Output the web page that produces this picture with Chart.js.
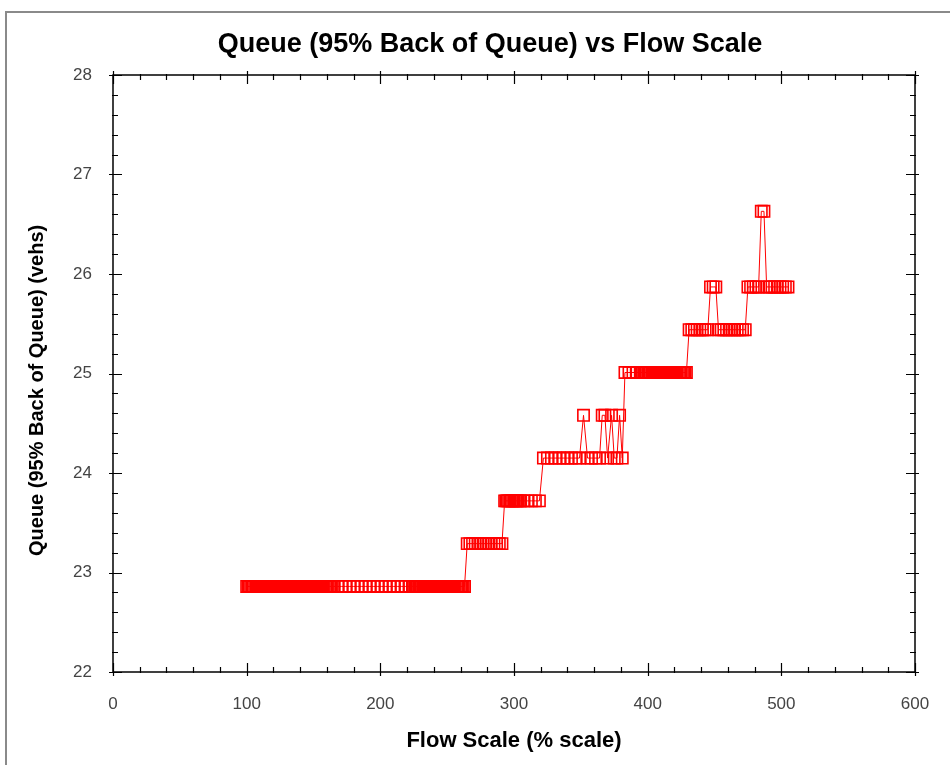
<!DOCTYPE html>
<html>
<head>
<meta charset="utf-8">
<script src="https://cdn.jsdelivr.net/npm/chart.js@4/dist/chart.umd.min.js"></script>
<style>
  body { margin: 0; background: #fff; }
  #frame { position: absolute; left: 5px; top: 11px; width: 960px; height: 780px;
           border-left: 2px solid #8a8a8a; border-top: 2px solid #8a8a8a; }
  #wrap { position: absolute; left: 0; top: 0; width: 950px; height: 765px; }
</style>
</head>
<body>
<div id="frame"></div>
<div id="wrap"><canvas id="queueChart" width="950" height="765"></canvas></div>
<script>
// Flat runs of the queue curve.
// Each run: first flow scale, last flow scale, sampling step, queue value
const runStart = [100, 168, 224, 265, 293, 307, 322, 352, 355, 366, 370, 373, 375, 379, 381, 383, 396, 431, 447, 453, 475, 485, 489];
const runEnd   = [165, 222, 263, 291, 305, 319, 349, 352, 364, 368, 370, 373, 377, 379, 381, 395, 429, 445, 451, 473, 483, 487, 506];
const runStep  = [1,   3,   1,   2,   1,   3,   3,   1,   3,   2,   1,   1,   2,   1,   1,   3,   1,   2,   2,   2,   2,   2,   2];
const runQueue = [22.86, 22.86, 22.86, 23.29, 23.72, 23.72, 24.15, 24.58, 24.15, 24.58, 24.15, 24.58, 24.15, 24.58, 24.15, 25.01, 25.01, 25.44, 25.87, 25.44, 25.87, 26.63, 25.87];

const xTicks = [0, 100, 200, 300, 400, 500, 600];
const yTicks = [22, 23, 24, 25, 26, 27, 28];
const yTitle = 'Queue (95% Back of Queue) (vehs)';

const points = [];
runStart.forEach((s, i) => {
  for (let x = s; x <= runEnd[i]; x += runStep[i]) {
    points.push({ x: x, y: runQueue[i] });
  }
});

// ticks on all four sides, pointing into the plot
const frameTicks = {
  id: 'frameTicks',
  afterLayout(chart) {
    // title sits a little left of plot centre in the original
    const t = chart.titleBlock;
    if (t) { t.left += 65; }
  },
  afterDraw(chart) {
    const { ctx, chartArea: a, scales: { x, y } } = chart;
    ctx.save();
    ctx.strokeStyle = '#000';
    ctx.lineWidth = 1.5;
    ctx.strokeRect(a.left, a.top, a.right - a.left, a.bottom - a.top);
    ctx.lineWidth = 1.2;
    ctx.beginPath();
    for (let v = 0; v <= 600; v += 20) {
      const px = Math.round(x.getPixelForValue(v)) + 0.5;
      const major = v % 100 === 0;
      const inn = major ? 9 : 5, out = major ? 4 : 1;
      ctx.moveTo(px, a.bottom + out); ctx.lineTo(px, a.bottom - inn);
      ctx.moveTo(px, a.top - out); ctx.lineTo(px, a.top + inn);
    }
    for (let k = 0; k <= 30; k++) {
      const v = 22 + k * 0.2;
      const py = Math.round(y.getPixelForValue(v)) + 0.5;
      const major = k % 5 === 0;
      const inn = major ? 9 : 5, out = major ? 4 : 1;
      ctx.moveTo(a.left - out, py); ctx.lineTo(a.left + inn, py);
      ctx.moveTo(a.right + out, py); ctx.lineTo(a.right - inn, py);
    }
    ctx.stroke();

    // y axis title, a bit below the plot middle like the original
    ctx.translate(37, y.getPixelForValue(24.83));
    ctx.rotate(-Math.PI / 2);
    ctx.fillStyle = '#000';
    ctx.font = 'bold 20px "Liberation Sans"';
    ctx.textAlign = 'center';
    ctx.textBaseline = 'middle';
    ctx.fillText(yTitle, 0, 0);
    ctx.restore();
  }
};

const ctx = document.getElementById('queueChart').getContext('2d');
new Chart(ctx, {
  type: 'line',
  data: {
    datasets: [{
      label: 'Queue',
      data: points,
      borderColor: '#ff0000',
      borderWidth: 1,
      backgroundColor: 'rgba(0,0,0,0)',
      pointStyle: 'rect',
      pointRadius: 8,
      pointBorderWidth: 1.6,
      pointBorderColor: '#ff0000',
      pointBackgroundColor: 'rgba(0,0,0,0)',
      tension: 0
    }]
  },
  options: {
    responsive: false,
    animation: false,
    layout: { padding: { left: 0, right: 35, top: 0, bottom: 0 } },
    plugins: {
      legend: { display: false },
      tooltip: { enabled: false },
      title: {
        display: true,
        text: 'Queue (95% Back of Queue) vs Flow Scale',
        color: '#000',
        font: { family: 'Liberation Sans', size: 27, weight: 'bold' },
        padding: { top: 28, bottom: 14.6 }
      }
    },
    scales: {
      x: {
        type: 'linear',
        min: 0, max: 600,
        afterFit: s => { s.height = 93; },
        afterBuildTicks: s => { s.ticks = xTicks.map(v => ({ value: v })); },
        grid: { display: false },
        border: { display: false },
        ticks: { color: '#444', padding: 14, maxRotation: 0,
                 font: { family: 'Liberation Sans', size: 17 } },
        title: { display: true, text: 'Flow Scale (% scale)', color: '#000',
                 font: { family: 'Liberation Sans', size: 22, weight: 'bold' },
                 padding: { top: 0, bottom: 11 } }
      },
      y: {
        type: 'linear',
        min: 22, max: 28,
        afterFit: s => { s.width = 113; },
        afterBuildTicks: s => { s.ticks = yTicks.map(v => ({ value: v })); },
        grid: { display: false },
        border: { display: false },
        ticks: { color: '#444', padding: 13,
                 font: { family: 'Liberation Sans', size: 17 } },
        title: { display: false }
      }
    }
  },
  plugins: [frameTicks]
});
</script>
</body>
</html>
